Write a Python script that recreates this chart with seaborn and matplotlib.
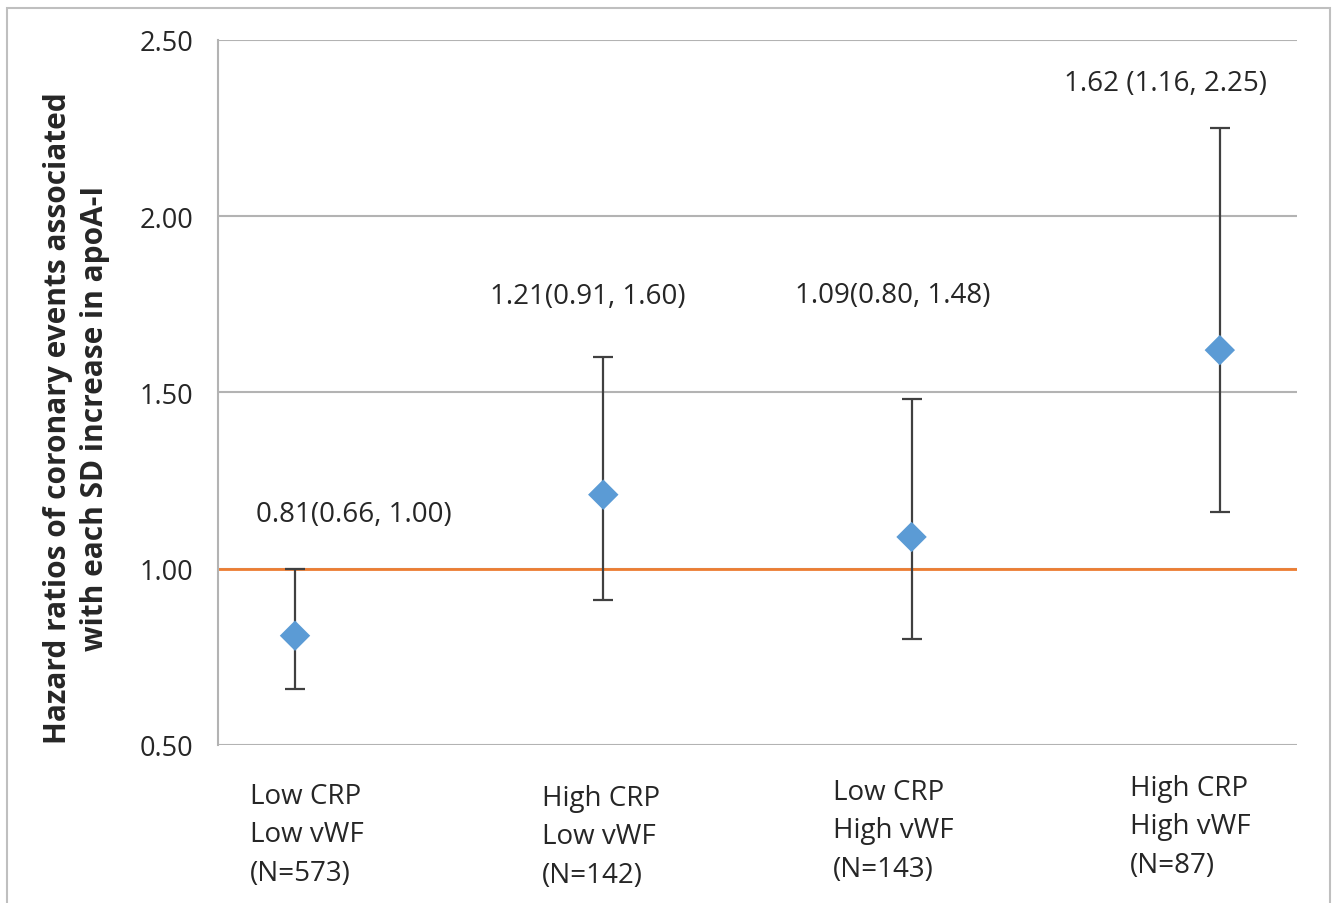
import numpy as np
import pandas as pd
import seaborn as sns
import matplotlib.pyplot as plt
from matplotlib.patches import Rectangle
from matplotlib.transforms import ScaledTranslation

groups = ["Low CRP\nLow vWF\n(N=573)", "High CRP\nLow vWF\n(N=142)",
          "Low CRP\nHigh vWF\n(N=143)", "High CRP\nHigh vWF\n(N=87)"]
hr = [0.81, 1.21, 1.09, 1.62]
ci_low = [0.66, 0.91, 0.80, 1.16]
ci_high = [1.00, 1.60, 1.48, 2.25]
labels = ["0.81(0.66, 1.00)", "1.21(0.91, 1.60)", "1.09(0.80, 1.48)", "1.62 (1.16, 2.25)"]

# where the value labels sit (layout only)
label_dx = [0.19, -0.05, -0.06, -0.175]
label_y = [1.155, 1.774, 1.777, 2.378]
# small nudges of the category labels, in pixels
tick_dx = [12, -2, -18, -30]
tick_dy = [2, 0, 6, 10]

sns.set_style("white")
plt.rcParams['font.family'] = ['Open Sans', 'DejaVu Sans']

df = pd.DataFrame({"group": groups, "hr": hr, "lo": ci_low, "hi": ci_high})
x = np.arange(len(groups))

fig = plt.figure(figsize=(13.37, 9.04), dpi=100)
ax = fig.add_axes([0.163, 0.1748, 0.807, 0.78])

ax.set_ylim(0.5, 2.5)
ax.set_xlim(-0.25, len(groups) - 0.75)
ax.set_yticks([0.5, 1.0, 1.5, 2.0, 2.5])
ax.set_yticklabels([f"{v:.2f}" for v in [0.5, 1.0, 1.5, 2.0, 2.5]], fontsize=19.5)
ax.yaxis.grid(True, color='#b3b3b3', lw=1.5)
ax.set_axisbelow(True)
for s in ['top', 'right', 'bottom']:
    ax.spines[s].set_visible(False)
ax.spines['left'].set_color('#b3b3b3')
ax.spines['left'].set_linewidth(1.5)
ax.tick_params(axis='y', length=6, color='#b3b3b3', width=1.5, pad=12)

ax.axhline(1.0, color='#ED7D31', lw=2, zorder=2)

ax.errorbar(x, df["hr"], yerr=[df["hr"] - df["lo"], df["hi"] - df["hr"]],
            fmt='none', ecolor='#404040', elinewidth=1.6, capsize=7, capthick=1.6, zorder=3)
sns.scatterplot(x=x, y=df["hr"], marker='D', s=240, color='#5B9BD5',
                edgecolor='none', ax=ax, zorder=4)

for i, t in enumerate(labels):
    ax.text(x[i] + label_dx[i], label_y[i], t, ha='center', va='center', fontsize=20)

ax.set_xticks(x)
ax.set_xticklabels(groups, fontsize=20, multialignment='left', linespacing=1.5)
ax.tick_params(axis='x', length=0, pad=28)
for lab, dx, dy in zip(ax.get_xticklabels(), tick_dx, tick_dy):
    lab.set_transform(lab.get_transform() + ScaledTranslation(dx / 100, dy / 100, fig.dpi_scale_trans))

ax.set_ylabel("Hazard ratios of coronary events associated\nwith each SD increase in apoA-I",
              fontsize=21.5, fontweight='bold', linespacing=1.3)
ax.yaxis.set_label_coords(-0.1, 0.465)

fig.patches.append(Rectangle((7 / 1337, -0.02), 1323 / 1337, 0.02 + 895 / 904,
                             transform=fig.transFigure, fill=False,
                             edgecolor='#bfbfbf', lw=1.5))

fig.savefig("out.png", dpi=100)
